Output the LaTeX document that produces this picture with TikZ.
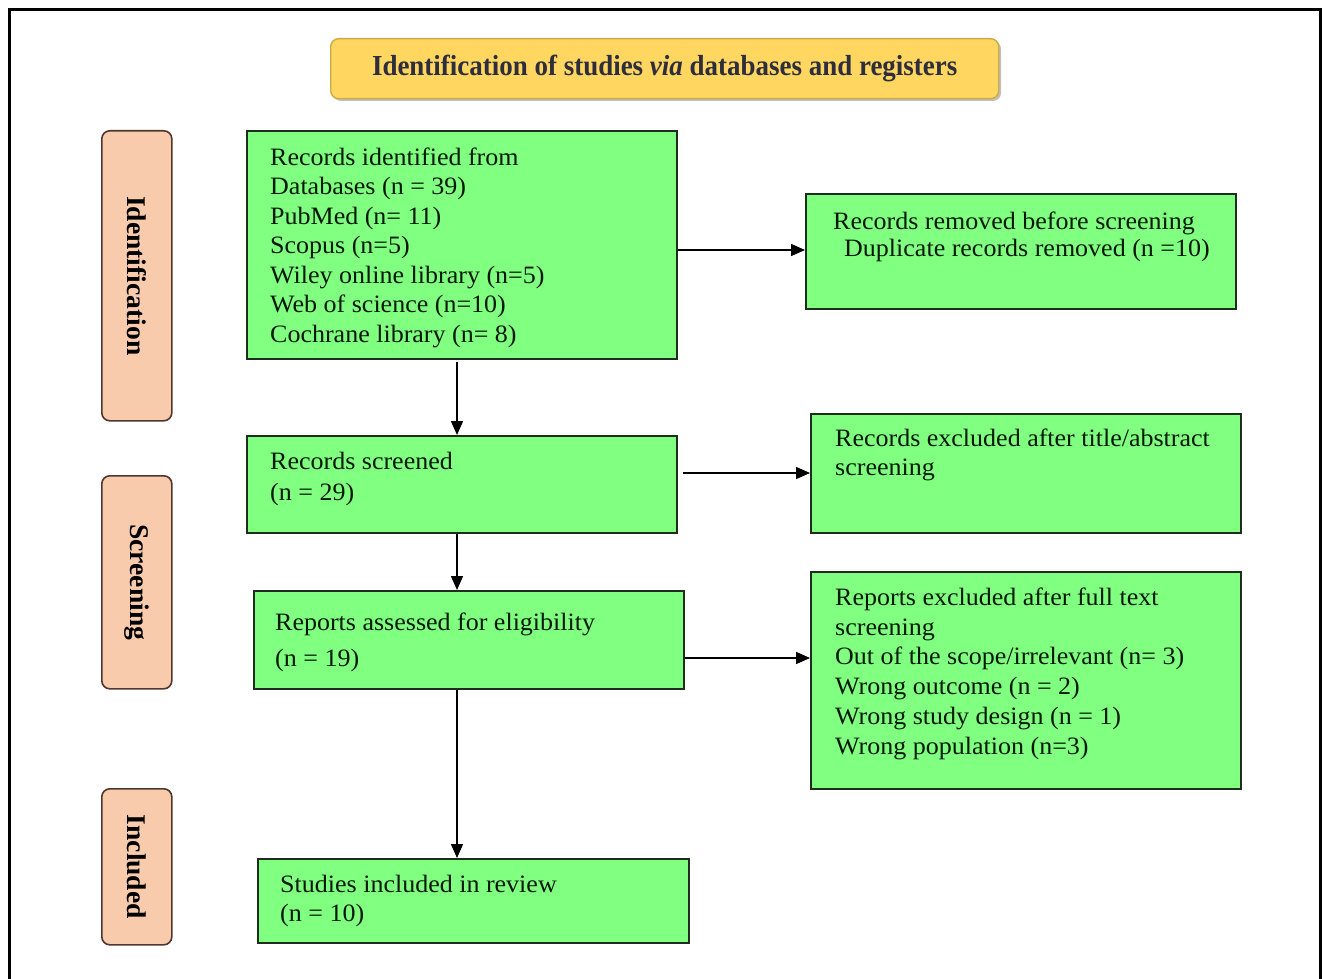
\documentclass[tikz,border=0pt]{standalone}
\usepackage{fontspec}
\setmainfont{Liberation Serif}
\newfontfamily\bodyfont[FakeStretch=1.04]{Liberation Serif}
\newfontfamily\headfont[FakeStretch=0.93]{Liberation Serif}
\newfontfamily\sidefont[FakeStretch=1.02]{Liberation Serif}
\usetikzlibrary{arrows.meta}
\definecolor{boxgreen}{RGB}{128,255,128}
\definecolor{greenedge}{RGB}{30,45,30}
\definecolor{peach}{RGB}{248,203,173}
\definecolor{peachedge}{RGB}{80,55,45}
\definecolor{gold}{RGB}{255,214,95}
\definecolor{goldedge}{RGB}{205,170,70}
\definecolor{headtext}{RGB}{45,45,60}
\newcommand{\topst}{\rule{0pt}{18pt}}
\begin{document}
\begin{tikzpicture}[x=1pt,y=-1pt,
  gbox/.style={draw=greenedge, line width=1.6pt, fill=boxgreen, inner sep=0pt, anchor=north west},
  sidebox/.style={draw=peachedge, line width=1.6pt, fill=peach, rounded corners=8pt, inner sep=0pt, anchor=north west},
  txt/.style={anchor=north west, inner sep=0pt, align=left, text=black!90!green},
  sidetxt/.style={rotate=-90, inner sep=0pt, font=\sidefont\bfseries\fontsize{27}{30}\selectfont},
  arr/.style={line width=1.5pt, -{Triangle[length=14pt,width=12pt]}}
]
\useasboundingbox (0,0) rectangle (1322,979);
\fill[white] (0,0) rectangle (1322,979);
% outer frame
\draw[line width=3pt] (9,990) -- (9,10) -- (1320,10) -- (1320,990);

% heading
\fill[black!25, rounded corners=8pt] (333,41) rectangle (1001,101);
\node[draw=goldedge, line width=1.4pt, fill=gold, rounded corners=8pt, minimum width=668pt, minimum height=60pt, inner sep=0pt, anchor=north west] (head) at (330,38) {};
\node[text=headtext, font=\headfont\bfseries\fontsize{29}{32}\selectfont] (headt) at (head.center) {Identification of studies \textit{via} databases and registers};

% side labels
\node[sidebox, minimum width=70pt, minimum height=290pt] (sid) at (101,130) {};
\node[sidetxt] (sidt) at (sid.center) {Identification};
\node[sidebox, minimum width=70pt, minimum height=213pt] (ssc) at (101,475) {};
\node[sidetxt] (ssct) at (ssc.center) {Screening};
\node[sidebox, minimum width=70pt, minimum height=156pt] (sin) at (101,788) {};
\node[sidetxt] (sint) at (sin.center) {Included};

% boxes
\node[gbox, minimum width=430pt, minimum height=228pt] (b1) at (246,130) {};
\node[txt, font=\bodyfont\fontsize{25}{29.5}\selectfont] (b1t) at (270,147) {\topst Records identified from\\Databases (n = 39)\\PubMed (n= 11)\\Scopus (n=5)\\Wiley online library (n=5)\\Web of science (n=10)\\Cochrane library (n= 8)};

\node[gbox, minimum width=430pt, minimum height=115pt] (b2) at (805,193) {};
\node[txt, font=\bodyfont\fontsize{25}{27.5}\selectfont] (b2t) at (833,211) {\topst Records removed before screening\\\hspace*{11pt}Duplicate records removed (n =10)};

\node[gbox, minimum width=430pt, minimum height=97pt] (b3) at (246,435) {};
\node[txt, font=\bodyfont\fontsize{25}{31}\selectfont] (b3t) at (270,451) {\topst Records screened\\(n = 29)};

\node[gbox, minimum width=430pt, minimum height=119pt] (b4) at (810,413) {};
\node[txt, font=\bodyfont\fontsize{25}{29.5}\selectfont] (b4t) at (835,428) {\topst Records excluded after title/abstract\\screening};

\node[gbox, minimum width=430pt, minimum height=98pt] (b5) at (253,590) {};
\node[txt, font=\bodyfont\fontsize{25}{36}\selectfont] (b5t) at (275,612) {\topst Reports assessed for eligibility\\(n = 19)};

\node[gbox, minimum width=430pt, minimum height=217pt] (b6) at (810,571) {};
\node[txt, font=\bodyfont\fontsize{25}{29.8}\selectfont] (b6t) at (835,587) {\topst Reports excluded after full text\\screening\\Out of the scope/irrelevant (n= 3)\\Wrong outcome (n = 2)\\Wrong study design (n = 1)\\Wrong population (n=3)};

\node[gbox, minimum width=431pt, minimum height=84pt] (b7) at (257,858) {};
\node[txt, font=\bodyfont\fontsize{25}{29}\selectfont] (b7t) at (280,874) {\topst Studies included in review\\(n = 10)};

% connectors
\coordinate (c1) at (457,362);
\draw[arr] (c1) -- (b3.north -| c1);
\draw[arr] (b1.east |- 0,250) -- (b2.west |- 0,250);
\coordinate (c2) at (683,473);
\draw[arr] (c2) -- (b4.west |- c2);
\draw[arr] (b3.south -| c1) -- (b5.north -| c1);
\draw[arr] (b5.east |- 0,658) -- (b6.west |- 0,658);
\draw[arr] (b5.south -| c1) -- (b7.north -| c1);
\end{tikzpicture}
\end{document}
